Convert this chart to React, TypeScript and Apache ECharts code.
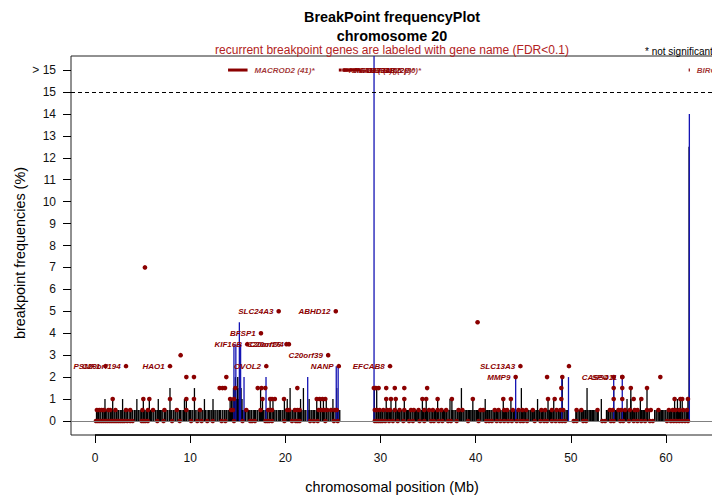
import { useEffect, useRef } from "react";
import * as echarts from "echarts";

const FONT = "'Liberation Sans', Arial, Helvetica, sans-serif";
const DARK_RED = "#8B0000";
const SUB_RED = "#B22222";
const BLUE = "#1414B4";

// axis extents (R style 4% padding)
const X_MIN = -2.52;
const X_MAX = 66.93;
const Y_MIN = -0.64;
const Y_MAX = 16.64;

const X_TICKS = [0, 10, 20, 30, 40, 50, 60];
const Y_TICKS = [0, 1, 2, 3, 4, 5, 6, 7, 8, 9, 10, 11, 12, 13, 14, 15, 16];
const Y_TICK_LABELS = ["0", "1", "2", "3", "4", "5", "6", "7", "8", "9", "10", "11", "12", "13", "14", "15", "> 15"];
const CUTOFF = 15;
const TOP_LEVEL = 16;

// breakpoint positions (Mb) by frequency (%)
const breaks05 = [
  0.16, 0.29, 0.37, 0.52, 0.61, 0.78, 0.86, 1.01, 1.12, 1.24, 1.39, 1.47, 1.63, 1.71, 1.86, 2.02, 2.11, 2.27, 2.41, 2.49,
  2.66, 2.81, 2.92, 3.09, 3.17, 3.34, 3.42, 3.59, 3.73, 3.88, 3.96, 4.14, 4.22, 4.38, 4.55, 4.63, 4.81, 4.89, 5.04, 5.18,
  5.27, 5.43, 5.52, 5.69, 5.84, 5.92, 6.09, 6.18, 6.35, 6.51, 6.59, 6.76, 6.88, 7.02, 7.13, 7.31, 7.39, 7.56, 7.64, 7.81,
  7.97, 8.06, 8.23, 8.31, 8.48, 8.63, 8.72, 8.89, 8.97, 9.14, 9.29, 9.37, 9.55, 9.63, 9.79, 9.94, 10.03, 10.19, 10.28, 10.46,
  10.53, 10.71, 10.87, 10.95, 11.12, 11.26, 11.34, 11.51, 11.6, 11.77, 11.92, 12.01, 12.18, 12.27, 12.44, 12.52, 12.69, 12.84,
  12.93, 13.09, 13.17, 13.36, 13.44, 13.61, 13.76, 13.84, 13.99, 14.08, 14.17, 14.26, 14.34, 14.41, 14.49, 14.56, 14.63, 14.71,
  14.79, 14.87, 14.94, 15.02, 15.09, 15.17, 15.26, 15.35, 15.47, 15.56, 15.73, 15.81, 15.98, 16.12, 16.21, 16.38, 16.46, 16.63,
  16.77, 16.86, 17.03, 17.11, 17.28, 17.43, 17.51, 17.68, 17.76, 17.93, 18.08, 18.17, 18.34, 18.42, 18.59, 18.74, 18.83, 19.01,
  19.09, 19.26, 19.41, 19.49, 19.66, 19.75, 19.92, 20.07, 20.16, 20.33, 20.41, 20.58, 20.73, 20.82, 20.99, 21.08, 21.25, 21.4,
  21.48, 21.65, 21.74, 21.91, 22.06, 22.15, 22.32, 22.4, 22.57, 22.72, 22.81, 22.98, 23.07, 23.24, 23.39, 23.47, 23.64, 23.73,
  23.9, 24.05, 24.14, 24.31, 24.39, 24.56, 24.71, 24.8, 24.97, 25.06, 25.23, 25.38, 25.46, 25.63, 25.72,
  29.32, 29.41, 29.55, 29.63, 29.78, 29.86, 30.01, 30.14, 30.22, 30.37, 30.46, 30.6, 30.73, 30.81, 30.96, 31.05, 31.19, 31.32,
  31.4, 31.55, 31.64, 31.78, 31.91, 31.99, 32.14, 32.23, 32.37, 32.5, 32.58, 32.73, 32.82, 32.96, 33.09, 33.17, 33.32, 33.41,
  33.55, 33.68, 33.76, 33.91, 34.0, 34.14, 34.27, 34.35, 34.5, 34.59, 34.73, 34.86, 34.94, 35.09, 35.18, 35.32, 35.45, 35.53,
  35.68, 35.77, 35.91, 36.04, 36.12, 36.27, 36.36, 36.5, 36.63, 36.71, 36.86, 36.95, 37.09, 37.22, 37.48, 37.57, 37.71, 37.84,
  37.92, 38.07, 38.16, 38.3, 38.43, 38.51, 38.66, 38.75, 38.89, 39.02, 39.1, 39.25, 39.34, 39.48, 39.61, 39.69, 39.84, 39.93,
  40.07, 40.2, 40.28, 40.43, 40.52, 40.66, 40.79, 40.87, 41.02, 41.11, 41.25, 41.38, 41.46, 41.61, 41.7, 41.84, 41.97, 42.05,
  42.2, 42.29, 42.43, 42.56, 42.64, 42.79, 42.88, 43.02, 43.15, 43.23, 43.38, 43.47, 43.61, 43.74, 43.82, 43.97, 44.06, 44.2,
  44.33, 44.41, 44.56, 44.65, 44.79, 44.92, 45.0, 45.15, 45.24, 45.38, 45.51, 45.59, 45.74, 45.83, 45.97, 46.1, 46.18, 46.33,
  46.42, 46.56, 46.69, 46.77, 46.92, 47.01, 47.15, 47.28, 47.36, 47.51, 47.6, 47.74, 47.87, 47.95, 48.1, 48.19, 48.33, 48.46,
  48.54, 48.69, 48.78, 48.92, 49.05, 49.13, 49.28, 49.37, 49.51, 49.64, 50.52, 50.61, 50.75, 50.88, 50.96, 51.11, 51.2, 51.34,
  51.47, 51.55, 51.7, 51.79, 51.93, 52.06, 52.14, 52.29, 52.38, 52.52, 52.65, 52.79, 52.88, 53.74, 53.88, 53.96, 54.11, 54.2,
  54.34, 54.47, 54.55, 54.7, 54.79, 54.93, 55.06, 55.14, 55.29, 55.38, 55.52, 55.65, 55.73, 55.88, 55.97, 56.11, 56.24, 56.32,
  56.47, 56.56, 56.7, 56.83, 56.91, 57.06, 57.15, 57.29, 57.42, 57.5, 57.65, 57.74, 57.88, 58.01, 58.09, 58.24, 58.8, 58.95,
  59.04, 59.18, 59.31, 59.39, 59.54, 59.63, 59.77, 59.9, 59.98, 60.13, 60.22, 60.36, 60.49, 60.57, 60.72, 60.81, 60.95, 61.08,
  61.16, 61.31, 61.4, 61.54, 61.67, 61.75, 61.9, 61.99, 62.13, 62.26, 62.34, 62.41,
];
const breaks10 = [
  1.05, 1.86, 2.9, 4.4, 5.08, 5.71, 6.65, 9.4, 9.6, 11.5, 12.4, 14.2, 14.35, 14.5, 14.65, 14.85, 15.05, 15.25, 15.45, 17.6,
  18.4, 18.7, 19.9, 20.2, 21.6, 22.5, 23.3, 23.7, 24.0, 24.3, 25.0, 30.6, 31.1, 31.6, 32.5, 34.4, 34.8, 36.0, 37.3, 37.5,
  39.7, 41.0, 42.9, 43.7, 46.5, 47.6, 48.2, 53.2, 55.9, 56.3, 57.3, 60.9, 61.2, 61.5, 61.7, 62.3,
];
const breaks15 = [
  7.88, 10.45, 14.55, 14.7, 14.95, 15.15, 15.35, 17.4, 20.5, 21.9, 25.4, 29.35, 29.6, 38.5, 44.8, 51.7, 54.5, 56.3, 58.0,
];
const breaks20 = [14.75, 15.0, 49.1];
const tallBreaks = [[62.42, 12.5]];

// significant genes (blue), [position Mb, frequency %]
const sigGenes = [
  [14.6, 3.5], [14.8, 3.5], [15.17, 4.5], [15.3, 3.5], [15.66, 2.0], [17.97, 2.0], [22.35, 2.0], [25.35, 2.5],
  [25.55, 2.5], [29.32, 18], [44.2, 2.0], [49.05, 2.0], [49.75, 2.0], [54.5, 2.0], [55.4, 2.0], [62.45, 14.0],
];

// gene dots (Mb) by frequency (%)
const genes00 = [
  0.1, 0.3, 0.5, 0.7, 0.9, 1.1, 1.3, 1.5, 1.7, 1.9, 2.1, 2.3, 2.5, 2.7, 2.9, 3.1, 3.4, 3.7, 3.95, 4.9, 5.1, 5.3, 5.55,
  6.55, 7.2, 8.1, 8.9, 10.1, 10.75, 11.2, 11.8, 12.37, 13.3, 13.7, 14.6, 15.5, 16.3, 16.5, 16.8, 17.9, 18.1, 18.3, 18.6,
  19.9, 20.7, 21.1, 21.3, 21.5, 22.6, 23.0, 23.4, 24.2, 25.1, 25.5, 29.4, 29.6, 29.8, 30.0, 30.2, 30.5, 30.9, 31.3, 31.8,
  32.4, 33.0, 33.4, 34.1, 34.6, 35.3, 35.6, 36.1, 36.5, 37.1, 37.4, 38.0, 39.2, 40.3, 41.1, 41.4, 41.7, 42.2, 42.6, 43.0,
  43.4, 43.8, 44.3, 44.7, 45.0, 45.4, 46.2, 46.8, 47.2, 47.5, 48.0, 48.4, 48.8, 49.1, 49.4, 50.3, 50.6, 51.3, 51.6, 53.3,
  53.6, 54.2, 54.5, 55.2, 55.5, 56.1, 56.6, 57.0, 57.4, 57.8, 58.3, 58.6, 60.1, 60.5, 60.8, 61.1, 61.4, 61.7, 62.0, 62.3,
];
const genes05 = [
  0.2, 0.45, 0.7, 0.95, 1.4, 1.6, 2.15, 3.26, 3.7, 4.99, 5.57, 6.1, 7.3, 8.6, 9.6, 11.03, 14.3, 14.5, 15.9, 17.4, 18.2,
  18.4, 18.6, 20.2, 20.4, 21.0, 21.26, 21.5, 23.5, 23.8, 24.1, 24.4, 24.8, 25.2, 25.4, 29.4, 29.6, 29.9, 30.3, 30.7, 31.0,
  31.5, 32.0, 32.5, 33.2, 33.5, 34.0, 34.6, 35.1, 35.5, 36.0, 36.4, 36.9, 38.2, 38.6, 40.5, 40.8, 42.0, 42.4, 43.0, 43.3,
  43.9, 44.5, 44.9, 45.3, 46.0, 46.9, 47.3, 48.0, 48.5, 48.9, 49.2, 50.6, 51.1, 52.8, 54.1, 54.4, 55.0, 55.3, 55.7, 56.2,
  56.7, 57.0, 58.0, 58.4, 59.2, 60.3, 60.7, 61.0, 61.4, 61.8, 62.2,
];
const genes10 = [
  1.86, 5.08, 5.71, 7.88, 9.6, 10.4, 14.2, 14.6, 17.6, 18.4, 18.6, 18.9, 19.86, 23.3, 23.6, 23.9, 24.2, 30.6, 31.1, 31.6,
  32.5, 34.4, 34.8, 36.0, 37.5, 39.7, 42.9, 43.7, 47.6, 48.3, 49.0, 54.5, 55.4, 56.6, 57.4, 60.9, 61.5, 61.7, 62.3,
];
const genes15 = [
  13.1, 13.4, 13.66, 14.75, 17.1, 17.5, 17.9, 21.26, 29.3, 29.5, 29.8, 30.6, 31.5, 32.5, 34.9, 49.0, 54.5, 55.4, 56.3, 58.0,
];
const genes20 = [9.6, 10.4, 13.8, 47.5, 49.1, 55.4, 59.4];
const genesHigh = [[5.25, 7], [9.0, 3], [40.2, 4.5], [49.8, 2.5]];

// recurrent genes labelled with name: [name, position Mb, frequency %]
const labelledGenes = [
  ["PSMF1", 1.1, 2.5], ["C20orf194", 3.26, 2.5], ["HAO1", 7.88, 2.5], ["KIF16B", 16.0, 3.5], ["BFSP1", 17.44, 4],
  ["OVOL2", 18.0, 2.5], ["SLC24A3", 19.3, 5], ["C20orf26", 20.12, 3.5], ["C20orf74", 20.38, 3.5], ["C20orf39", 24.5, 3],
  ["ABHD12", 25.3, 5], ["NANP", 25.62, 2.5], ["EFCAB8", 31.0, 2.5], ["MMP9", 44.2, 2], ["SLC13A3", 44.7, 2.5],
  ["CASS4", 54.5, 2], ["SPO11", 55.4, 2],
];

// genes above the cutoff: [label, start Mb, end Mb]
const topGenes = [
  ["MACROD2 (41)*", 13.98, 16.03], ["FRG1B (30)*", 25.62, 25.92], ["ZNF337 (18)*", 25.98, 26.28],
  ["FAM182A (22)*", 26.05, 26.55], ["FAM182B (26)*", 26.1, 27.0], ["DEFB115 (30)*", 26.2, 27.85],
  ["BIRC7 (14)*", 62.38, 62.5],
];

const vline = (color: string, width: number) => (params: any, api: any) => {
  const x = api.value(0);
  const y = api.value(1);
  const a = api.coord([x, 0]);
  const b = api.coord([x, y]);
  return { type: "line", shape: { x1: a[0], y1: a[1], x2: b[0], y2: b[1] }, style: { stroke: color, lineWidth: width } };
};

const txt = (text: string, x: number, y: number, size: number, opts: any = {}) => ({
  type: "text",
  x,
  y,
  rotation: opts.rotation || 0,
  silent: true,
  style: {
    text,
    fontFamily: FONT,
    fontSize: size,
    fontWeight: opts.bold ? "bold" : "normal",
    fill: opts.color || "#000",
    align: opts.align || "center",
    textAlign: opts.align || "center",
    verticalAlign: "middle",
    textVerticalAlign: "middle",
  },
});

const breakData = [
  ...breaks05.map((p) => [p, 0.5]),
  ...breaks10.map((p) => [p, 1.0]),
  ...breaks15.map((p) => [p, 1.5]),
  ...breaks20.map((p) => [p, 2.0]),
  ...tallBreaks,
];
const geneData = [
  ...genes00.map((p) => [p, 0]),
  ...genes05.map((p) => [p, 0.5]),
  ...genes10.map((p) => [p, 1.0]),
  ...genes15.map((p) => [p, 1.5]),
  ...genes20.map((p) => [p, 2.0]),
  ...genesHigh,
];

const option: any = {
  animation: false,
  backgroundColor: "#fff",
  grid: { left: 71, top: 56, right: 0, bottom: 63, show: true, borderColor: "#222", borderWidth: 1, backgroundColor: "transparent" },
  xAxis: {
    type: "value",
    min: X_MIN,
    max: X_MAX,
    axisLine: { show: false, onZero: false },
    splitLine: { show: false },
    axisTick: { show: true, customValues: X_TICKS, length: 8, lineStyle: { color: "#000", width: 1 } },
    axisLabel: { customValues: X_TICKS, margin: 17, fontSize: 12, fontFamily: FONT, color: "#111" },
  },
  yAxis: {
    type: "value",
    min: Y_MIN,
    max: Y_MAX,
    axisLine: { show: false, onZero: false },
    splitLine: { show: false },
    axisTick: { show: true, customValues: Y_TICKS, length: 8, lineStyle: { color: "#000", width: 1 } },
    axisLabel: {
      customValues: Y_TICKS,
      margin: 15,
      fontSize: 12,
      fontFamily: FONT,
      color: "#111",
      formatter: (v: number) => Y_TICK_LABELS[Y_TICKS.indexOf(Math.round(v))],
    },
  },
  graphic: [
    txt("BreakPoint frequencyPlot", 392, 17, 14.4, { bold: true }),
    txt("chromosome 20", 392, 36, 14.4, { bold: true }),
    txt("recurrent breakpoint genes are labeled with gene name (FDR<0.1)", 392, 50, 12, { color: SUB_RED }),
    txt("* not significant", 645, 51, 10, { align: "left" }),
    txt("breakpoint frequencies (%)", 20, 253, 14.4, { rotation: Math.PI / 2 }),
    txt("chromosomal position (Mb)", 392, 487, 14.4),
  ],
  series: [
    {
      type: "line",
      name: "axis",
      data: [[X_TICKS[0], Y_MIN], [X_TICKS[X_TICKS.length - 1], Y_MIN]],
      symbol: "none",
      clip: false,
      silent: true,
      lineStyle: { color: "#000", width: 1.3 },
      markLine: {
        silent: true,
        symbol: ["none", "none"],
        label: { show: false },
        data: [
          { yAxis: 0, lineStyle: { color: "#808080", width: 1, type: "solid" } },
          { yAxis: CUTOFF, lineStyle: { color: "#000", width: 1, type: [4, 3] } },
        ],
      },
    },
    {
      type: "custom",
      name: "breakpoints",
      data: breakData,
      encode: { x: 0, y: 1 },
      renderItem: vline("#000", 1.3),
      silent: true,
    },
    {
      type: "custom",
      name: "significant",
      data: sigGenes,
      encode: { x: 0, y: 1 },
      renderItem: vline(BLUE, 1.3),
      clip: true,
      silent: true,
    },
    {
      type: "scatter",
      name: "genes",
      data: geneData,
      symbolSize: 4.6,
      itemStyle: { color: DARK_RED, opacity: 1 },
      silent: true,
    },
    {
      type: "scatter",
      name: "labelled",
      data: labelledGenes.map((g) => ({ name: g[0], value: [g[1], g[2]] })),
      symbolSize: 4.6,
      itemStyle: { color: DARK_RED, opacity: 1 },
      silent: true,
      label: {
        show: true,
        position: "left",
        distance: 3,
        formatter: "{b}",
        fontFamily: FONT,
        fontSize: 8,
        fontWeight: "bold",
        fontStyle: "italic",
        color: DARK_RED,
      },
    },
    {
      type: "custom",
      name: "topSegments",
      data: topGenes.map((g) => [g[1], g[2], TOP_LEVEL]),
      encode: { x: [0, 1], y: 2 },
      silent: true,
      renderItem: (params: any, api: any) => {
        const a = api.coord([api.value(0), api.value(2)]);
        const b = api.coord([api.value(1), api.value(2)]);
        return { type: "line", shape: { x1: a[0], y1: a[1], x2: b[0], y2: b[1] }, style: { stroke: DARK_RED, lineWidth: 3 } };
      },
    },
    {
      type: "scatter",
      name: "topLabels",
      data: topGenes.map((g) => ({ name: g[0], value: [g[2], TOP_LEVEL] })),
      symbolSize: 0,
      silent: true,
      label: {
        show: true,
        position: "right",
        distance: 7,
        formatter: "{b}",
        fontFamily: FONT,
        fontSize: 8,
        fontWeight: "bold",
        fontStyle: "italic",
        color: DARK_RED,
      },
    },
  ],
};

export default function App() {
  const ref = useRef<HTMLDivElement>(null);
  useEffect(() => {
    const chart = echarts.init(ref.current as HTMLDivElement, null, { renderer: "svg" });
    chart.setOption(option);
    return () => chart.dispose();
  }, []);
  return (
    <div style={{ position: "absolute", left: 0, top: 0, width: 712, height: 498, overflow: "hidden", background: "#fff" }}>
      <div ref={ref} style={{ width: 732, height: 498 }} />
    </div>
  );
}
